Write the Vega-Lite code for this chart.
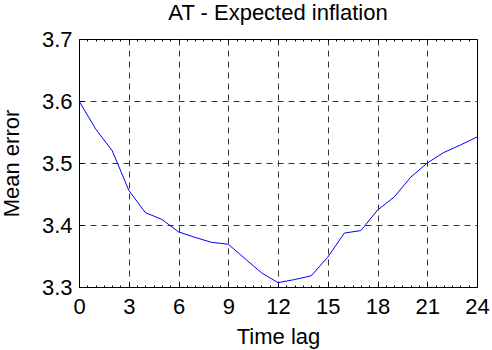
{
  "$schema": "https://vega.github.io/schema/vega-lite/v6.json",
  "autosize": "none",
  "width": 398,
  "height": 248,
  "padding": {"left": 79, "top": 39, "right": 15, "bottom": 63},
  "background": "white",
  "title": {"text": "AT - Expected inflation", "font": "Liberation Sans", "fontSize": 22, "fontWeight": "normal", "color": "black", "offset": 3},
  "config": {"view": {"stroke": "black", "strokeWidth": 1}},
  "data": {"values": [
    {"lag": 0, "error": 3.600},
    {"lag": 1, "error": 3.555},
    {"lag": 2, "error": 3.520},
    {"lag": 3, "error": 3.456},
    {"lag": 4, "error": 3.420},
    {"lag": 5, "error": 3.409},
    {"lag": 6, "error": 3.389},
    {"lag": 7, "error": 3.380},
    {"lag": 8, "error": 3.372},
    {"lag": 9, "error": 3.369},
    {"lag": 10, "error": 3.346},
    {"lag": 11, "error": 3.323},
    {"lag": 12, "error": 3.307},
    {"lag": 13, "error": 3.312},
    {"lag": 14, "error": 3.318},
    {"lag": 15, "error": 3.348},
    {"lag": 16, "error": 3.387},
    {"lag": 17, "error": 3.391},
    {"lag": 18, "error": 3.424},
    {"lag": 19, "error": 3.445},
    {"lag": 20, "error": 3.477},
    {"lag": 21, "error": 3.500},
    {"lag": 22, "error": 3.517},
    {"lag": 23, "error": 3.529},
    {"lag": 24, "error": 3.542}
  ]},
  "resolve": {"axis": {"x": "independent"}},
  "layer": [
    {
      "mark": {"type": "line", "color": "#0000ff", "strokeWidth": 1},
      "encoding": {
        "x": {
          "field": "lag", "type": "quantitative",
          "scale": {"domain": [0, 24], "nice": false, "zero": false},
          "axis": {
            "orient": "bottom",
            "title": "Time lag",
            "titleFont": "Liberation Sans", "titleFontSize": 22, "titleFontWeight": "normal", "titleColor": "black",
            "titlePadding": 7,
            "values": [0,0.5,1,1.5,2,2.5,3,3.5,4,4.5,5,5.5,6,6.5,7,7.5,8,8.5,9,9.5,10,10.5,11,11.5,12,12.5,13,13.5,14,14.5,15,15.5,16,16.5,17,17.5,18,18.5,19,19.5,20,20.5,21,21.5,22,22.5,23,23.5,24],
            "labelExpr": "datum.value % 3 === 0 ? format(datum.value, 'd') : ''",
            "labelFont": "Liberation Sans", "labelFontSize": 22, "labelColor": "black",
            "labelPadding": 13,
            "labelFlush": false,
            "labelOverlap": false,
            "domain": false,
            "tickColor": "black",
            "tickSize": {"condition": {"test": "datum.value % 3 === 0", "value": -4}, "value": -2},
            "grid": true,
            "gridColor": "#333333",
            "gridDash": [6, 5],
            "gridWidth": 1,
            "gridOpacity": {"condition": {"test": "datum.value % 3 === 0 && datum.value > 0 && datum.value < 24", "value": 1}, "value": 0}
          }
        },
        "y": {
          "field": "error", "type": "quantitative",
          "scale": {"domain": [3.3, 3.7], "nice": false, "zero": false},
          "axis": {
            "title": "Mean error",
            "titleFont": "Liberation Sans", "titleFontSize": 22, "titleFontWeight": "normal", "titleColor": "black",
            "titlePadding": 18,
            "values": [3.3, 3.4, 3.5, 3.6, 3.7],
            "format": ".1f",
            "labelFont": "Liberation Sans", "labelFontSize": 22, "labelColor": "black",
            "labelPadding": 11,
            "labelFlush": false,
            "labelOverlap": false,
            "domain": false,
            "tickColor": "black",
            "tickSize": -4,
            "grid": true,
            "gridColor": "#333333",
            "gridDash": [6, 5],
            "gridWidth": 1,
            "gridOpacity": {"condition": {"test": "datum.value > 3.31 && datum.value < 3.69", "value": 1}, "value": 0}
          }
        }
      }
    },
    {
      "mark": {"type": "line", "strokeOpacity": 0},
      "encoding": {
        "x": {
          "field": "lag", "type": "quantitative",
          "axis": {
            "orient": "top",
            "title": null,
            "values": [0,0.5,1,1.5,2,2.5,3,3.5,4,4.5,5,5.5,6,6.5,7,7.5,8,8.5,9,9.5,10,10.5,11,11.5,12,12.5,13,13.5,14,14.5,15,15.5,16,16.5,17,17.5,18,18.5,19,19.5,20,20.5,21,21.5,22,22.5,23,23.5,24],
            "labels": false,
            "domain": false,
            "grid": false,
            "tickColor": "black",
            "tickSize": -2
          }
        },
        "y": {"field": "error", "type": "quantitative"}
      }
    }
  ]
}
